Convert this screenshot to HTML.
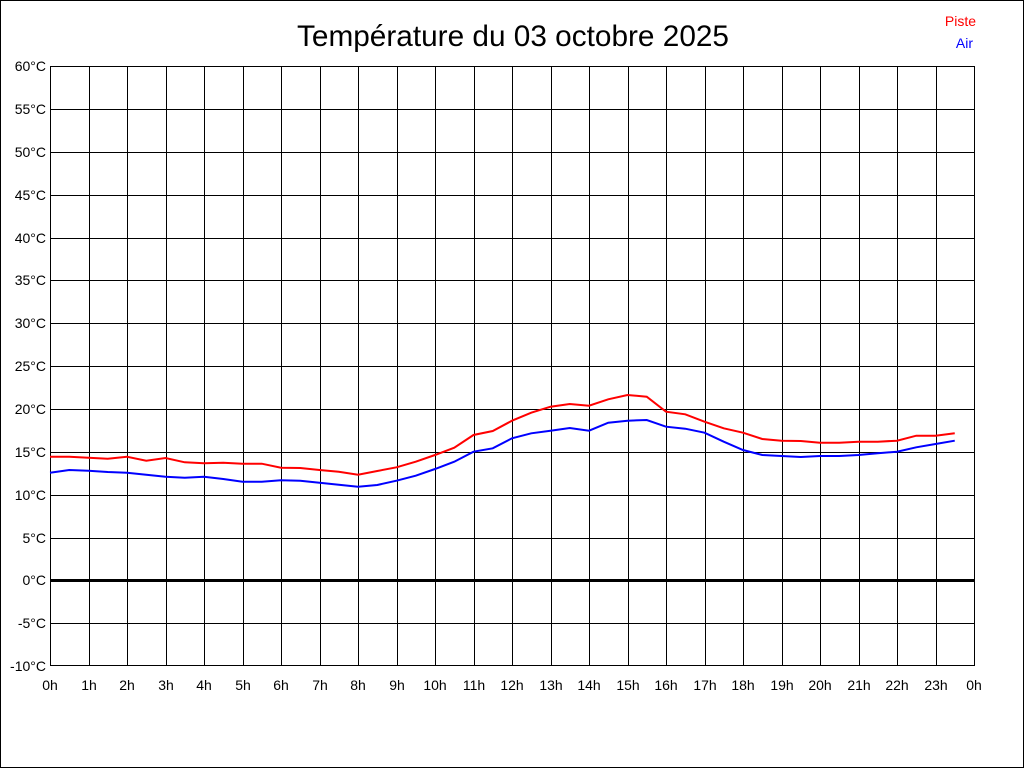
<!DOCTYPE html>
<html><head><meta charset="utf-8"><style>
html,body{margin:0;padding:0;background:#fff}
svg{display:block}
text{font-family:"Liberation Sans",sans-serif}
</style></head><body>
<svg width="1024" height="768" xmlns="http://www.w3.org/2000/svg">
<rect x="0.5" y="0.5" width="1023" height="767" fill="#fff" stroke="#000"/>
<text x="513" y="46" font-size="29.5" text-anchor="middle" textLength="432" lengthAdjust="spacingAndGlyphs">Température du 03 octobre 2025</text>
<text x="976" y="26" font-size="14" fill="#f00" text-anchor="end">Piste</text>
<text x="973" y="48" font-size="14" fill="#00f" text-anchor="end">Air</text>
<g stroke="#000" stroke-width="1" fill="none">
<path d="M50.5 66V666M89.5 66V666M127.5 66V666M166.5 66V666M204.5 66V666M243.5 66V666M281.5 66V666M320.5 66V666M358.5 66V666M397.5 66V666M435.5 66V666M474.5 66V666M512.5 66V666M551.5 66V666M589.5 66V666M628.5 66V666M666.5 66V666M705.5 66V666M743.5 66V666M782.5 66V666M820.5 66V666M859.5 66V666M897.5 66V666M936.5 66V666M974.5 66V666"/>
<path d="M50 66.5H975M50 109.5H975M50 152.5H975M50 195.5H975M50 238.5H975M50 280.5H975M50 323.5H975M50 366.5H975M50 409.5H975M50 452.5H975M50 495.5H975M50 538.5H975M50 623.5H975M50 665.5H975"/>
</g>
<rect x="50" y="579" width="925" height="3" fill="#000"/>
<g font-size="14" text-anchor="end">
<text x="46" y="71">60°C</text><text x="46" y="114">55°C</text><text x="46" y="157">50°C</text><text x="46" y="200">45°C</text><text x="46" y="243">40°C</text><text x="46" y="285">35°C</text><text x="46" y="328">30°C</text><text x="46" y="371">25°C</text><text x="46" y="414">20°C</text><text x="46" y="457">15°C</text><text x="46" y="500">10°C</text><text x="46" y="543">5°C</text><text x="46" y="585">0°C</text><text x="46" y="628">-5°C</text><text x="46" y="671">-10°C</text>
</g>
<g font-size="14" text-anchor="middle">
<text x="50" y="690">0h</text><text x="89" y="690">1h</text><text x="127" y="690">2h</text><text x="166" y="690">3h</text><text x="204" y="690">4h</text><text x="243" y="690">5h</text><text x="281" y="690">6h</text><text x="320" y="690">7h</text><text x="358" y="690">8h</text><text x="397" y="690">9h</text><text x="435" y="690">10h</text><text x="474" y="690">11h</text><text x="512" y="690">12h</text><text x="551" y="690">13h</text><text x="589" y="690">14h</text><text x="628" y="690">15h</text><text x="666" y="690">16h</text><text x="705" y="690">17h</text><text x="743" y="690">18h</text><text x="782" y="690">19h</text><text x="820" y="690">20h</text><text x="859" y="690">21h</text><text x="897" y="690">22h</text><text x="936" y="690">23h</text><text x="974" y="690">0h</text>
</g>
<polyline fill="none" stroke="#f00" stroke-width="2" points="50,456.7 69.25,456.7 88.5,457.7 107.75,458.7 127,456.7 146.25,460.7 165.5,458 184.75,462.3 204,463.3 223.25,462.7 242.5,463.7 261.75,463.7 281,467.7 300.25,468 319.5,470 338.75,471.7 358,474.7 377.25,471 396.5,467.3 415.75,461.7 435,455 454.25,447.7 473.5,435 492.75,431 512,420.7 531.25,412.7 550.5,406.7 569.75,404 589,405.7 608.25,399.3 627.5,395 646.75,396.7 666,411.7 685.25,414.3 704.5,421.7 723.75,428.3 743,432.7 762.25,439 781.5,440.7 800.75,441 820,442.7 839.25,442.7 858.5,441.7 877.75,441.7 897,440.7 916.25,435.7 935.5,435.7 954.75,433.3"/>
<polyline fill="none" stroke="#00f" stroke-width="2" points="50,472.7 69.25,470 88.5,470.7 107.75,472 127,472.7 146.25,474.7 165.5,476.7 184.75,477.7 204,476.7 223.25,479 242.5,481.7 261.75,481.7 281,480.3 300.25,480.7 319.5,482.7 338.75,484.7 358,486.7 377.25,485 396.5,480.7 415.75,475.7 435,469 454.25,461.7 473.5,451.7 492.75,448.3 512,438.3 531.25,433.3 550.5,430.7 569.75,428 589,430.7 608.25,422.7 627.5,420.7 646.75,420 666,426.7 685.25,428.7 704.5,432.7 723.75,441.7 743,450 762.25,455 781.5,456 800.75,457 820,456 839.25,456 858.5,455 877.75,453.3 897,451.7 916.25,447.3 935.5,444 954.75,440.7"/>
</svg>
</body></html>
